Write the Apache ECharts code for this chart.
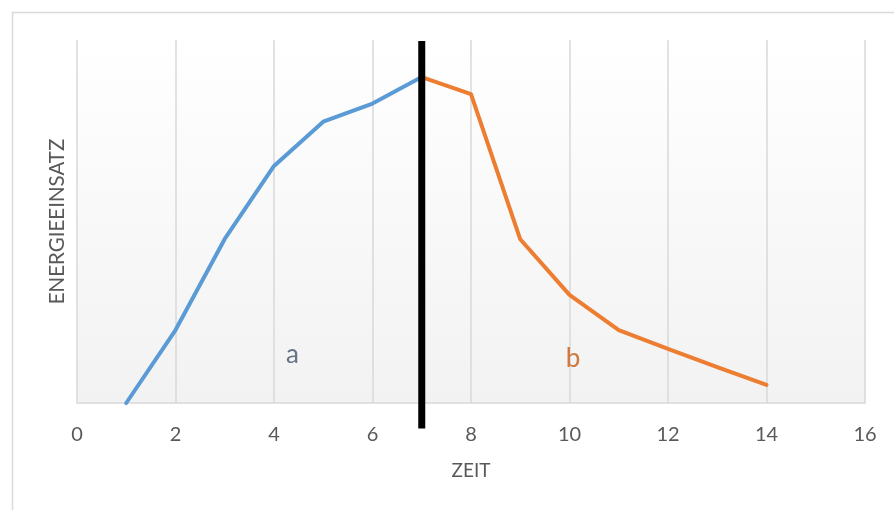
<!DOCTYPE html>
<html>
<head>
<meta charset="utf-8">
<script src="https://cdn.jsdelivr.net/npm/echarts@6/dist/echarts.min.js"></script>
<style>html,body{margin:0;padding:0;background:#fff}#c{width:894px;height:510px}</style>
</head>
<body>
<div id="c"></div>
<script>
// Data (y has no labelled scale; values on a 0–100 relative scale)
const seriesA = [[1, 0], [2, 20.1], [3, 45.2], [4, 65.3], [5, 77.5], [6, 82.5], [7, 89.8]];
const seriesB = [[7, 89.8], [8, 85.1], [9, 45.1], [10, 29.8], [11, 20.1], [12, 14.9], [13, 9.9], [14, 5.0]];
const divider = [[7, 99.7], [7, -7.0]];
const labelA = [[4.376, 13.2]];
const labelB = [[10.07, 12.1]];
const xTicks = [0, 2, 4, 6, 8, 10, 12, 14, 16];

const FONT = 'Lato';
const chart = echarts.init(document.getElementById('c'), null, {renderer: 'canvas'});
chart.setOption({
  animation: false,
  backgroundColor: '#ffffff',
  textStyle: {fontFamily: FONT},
  graphic: [{
    type: 'rect', left: 10, top: 10, z: -10, silent: true,
    shape: {width: 900, height: 520},
    style: {fill: 'none', stroke: '#d9d9d9', lineWidth: 1.5}
  }],
  grid: {
    left: 77, right: 29, top: 40, bottom: 107,
    show: true, borderWidth: 0,
    backgroundColor: new echarts.graphic.LinearGradient(0, 0, 0, 1, [
      {offset: 0, color: '#ffffff'},
      {offset: 1, color: '#f2f2f2'}
    ])
  },
  xAxis: {
    type: 'value', min: xTicks[0], max: xTicks[xTicks.length - 1], interval: 2,
    name: 'ZEIT', nameLocation: 'middle', nameGap: 58,
    nameTextStyle: {color: '#595959', fontSize: 19, fontFamily: FONT},
    axisLine: {show: true, lineStyle: {color: '#d9d9d9', width: 1.5}},
    axisTick: {show: false},
    axisLabel: {color: '#595959', fontSize: 20, margin: 22, fontFamily: FONT},
    splitLine: {show: true, lineStyle: {color: '#d9d9d9', width: 1.5}}
  },
  yAxis: {
    type: 'value', min: 0, max: 100,
    name: 'ENERGIEEINSATZ', nameLocation: 'middle', nameGap: 9, nameRotate: 90,
    nameTextStyle: {color: '#595959', fontSize: 20.5, fontFamily: FONT},
    axisLine: {show: false}, axisTick: {show: false}, axisLabel: {show: false},
    splitLine: {show: false}
  },
  series: [
    {type: 'line', data: seriesA, symbol: 'none', z: 3,
     lineStyle: {color: '#5b9bd5', width: 4, cap: 'round', join: 'round'}},
    {type: 'line', data: seriesB, symbol: 'none', z: 3,
     lineStyle: {color: '#ed7d31', width: 4, cap: 'round', join: 'round'}},
    {type: 'line', data: divider, symbol: 'none', clip: false, z: 5,
     lineStyle: {color: '#000000', width: 7, cap: 'butt'}},
    {type: 'scatter', data: labelA, symbolSize: 1, itemStyle: {color: 'rgba(0,0,0,0)'},
     label: {show: true, position: 'inside', formatter: 'a', color: '#44546a', fontSize: 26, fontFamily: FONT}},
    {type: 'scatter', data: labelB, symbolSize: 1, itemStyle: {color: 'rgba(0,0,0,0)'},
     label: {show: true, position: 'inside', formatter: 'b', color: '#c55a11', fontSize: 26, fontFamily: FONT}}
  ]
});
</script>
</body>
</html>
